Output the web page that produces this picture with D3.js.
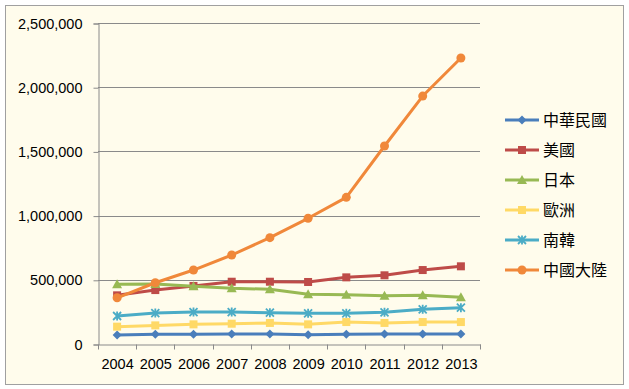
<!DOCTYPE html>
<html><head><meta charset="utf-8">
<script src="https://cdn.jsdelivr.net/npm/d3@7"></script>
<style>body{margin:0;background:#fff;}svg{display:block;}</style>
</head><body><svg id="c" width="629" height="389"></svg>
<script>
const years = ["2004","2005","2006","2007","2008","2009","2010","2011","2012","2013"];
const seriesNames = ["中華民國","美國","日本","歐洲","南韓","中國大陸"];
const taiwan = [70000,75000,76000,77000,78000,73000,76000,77000,78000,78000];
const usa = [379000,420000,452000,485000,485000,483000,519000,535000,576000,605000];
const japan = [465000,467000,449000,434000,426000,387000,384000,376000,379000,364000];
const europe = [135000,145000,153000,158000,164000,153000,171000,164000,171000,171000];
const korea = [218000,241000,249000,249000,244000,239000,239000,247000,270000,283000];
const china = [360000,477000,576000,693000,828000,979000,1142000,1542000,1931000,2227000];
const yTicks = [0,500000,1000000,1500000,2000000,2500000];

const seriesData = [taiwan, usa, japan, europe, korea, china];
const colors = ["#4a7ebb","#be4b48","#98b954","#ffd966","#4bacc6","#f0883a"];
const markers = ["diamond","square","triangle","square","x","circle"];

const svg = d3.select("#c");
svg.append("rect").attr("x",5.5).attr("y",5.5).attr("width",618).attr("height",379)
  .attr("fill","#fffcec").attr("stroke","#a0a0a0").attr("stroke-width",1);

const x = d3.scaleBand().domain(years).range([98,480]);
const y = d3.scaleLinear().domain([0,2500000]).range([344,23]);

// gridlines
svg.append("g").selectAll("line").data(yTicks.slice(1)).join("line")
  .attr("x1",98).attr("x2",480).attr("y1",d=>Math.round(y(d))+0.5).attr("y2",d=>Math.round(y(d))+0.5)
  .attr("stroke","#8a8a8a").attr("stroke-width",1);

const fmt = d3.format(",");
const yAxis = svg.append("g").attr("transform","translate(98.5,0.5)")
  .call(d3.axisLeft(y).tickValues(yTicks).tickFormat(fmt).tickSize(5).tickPadding(11));
yAxis.select(".domain").attr("stroke","#8a8a8a");
yAxis.selectAll(".tick line").attr("stroke","#8a8a8a");
yAxis.selectAll("text").attr("font-family","Liberation Sans, Arial, sans-serif").attr("font-size","14.5px").attr("fill","#000");

const xAxis = svg.append("g").attr("transform","translate(0.5,344.5)")
  .call(d3.axisBottom(x).tickSize(0).tickPadding(14));
xAxis.select(".domain").attr("stroke","#8a8a8a");
xAxis.selectAll("text").attr("font-family","Liberation Sans, Arial, sans-serif").attr("font-size","14.5px").attr("fill","#000");
// band boundary ticks
xAxis.append("g").selectAll("line").data(years.concat(["end"])).join("line")
  .attr("x1",(d,i)=>Math.round(98+i*x.step())).attr("x2",(d,i)=>Math.round(98+i*x.step()))
  .attr("y1",0).attr("y2",5).attr("stroke","#8a8a8a");

function drawMarker(g, type, cx, cy, color, s) {
  s = s || 1;
  if (type==="diamond") {
    g.append("path").attr("d",`M${cx},${cy-4.5*s}L${cx+4.5*s},${cy}L${cx},${cy+4.5*s}L${cx-4.5*s},${cy}Z`).attr("fill",color);
  } else if (type==="square") {
    g.append("rect").attr("x",cx-4*s).attr("y",cy-4*s).attr("width",8*s).attr("height",8*s).attr("fill",color);
  } else if (type==="triangle") {
    g.append("path").attr("d",`M${cx},${cy-5*s}L${cx+5*s},${cy+4*s}L${cx-5*s},${cy+4*s}Z`).attr("fill",color);
  } else if (type==="x") {
    g.append("path").attr("d",`M${cx-4*s},${cy-4*s}L${cx+4*s},${cy+4*s}M${cx+4*s},${cy-4*s}L${cx-4*s},${cy+4*s}M${cx},${cy-4.5*s}L${cx},${cy+4.5*s}`)
      .attr("stroke",color).attr("stroke-width",1.8).attr("fill","none");
  } else if (type==="circle") {
    g.append("circle").attr("cx",cx).attr("cy",cy).attr("r",4.5*s).attr("fill",color);
  }
}

const line = d3.line().x((d,i)=>x(years[i])+x.bandwidth()/2).y(d=>y(d));
seriesData.forEach((data,si)=>{
  const g = svg.append("g");
  g.append("path").datum(data).attr("d",line).attr("fill","none")
    .attr("stroke",colors[si]).attr("stroke-width",3).attr("stroke-linejoin","round");
  data.forEach((v,i)=>drawMarker(g, markers[si], x(years[i])+x.bandwidth()/2, y(v), colors[si]));
});

// legend
const lg = svg.append("g");
seriesNames.forEach((name,i)=>{
  const ly = 120 + i*30;
  lg.append("line").attr("x1",505).attr("x2",539).attr("y1",ly).attr("y2",ly)
    .attr("stroke",colors[i]).attr("stroke-width",3);
  drawMarker(lg, markers[i], 522, ly, colors[i]);
  lg.append("text").attr("x",543).attr("y",ly).attr("dy","0.36em")
    .attr("font-family","Noto Sans CJK TC, sans-serif").attr("font-size","16px").attr("fill","#000").text(name);
});
</script></body></html>
